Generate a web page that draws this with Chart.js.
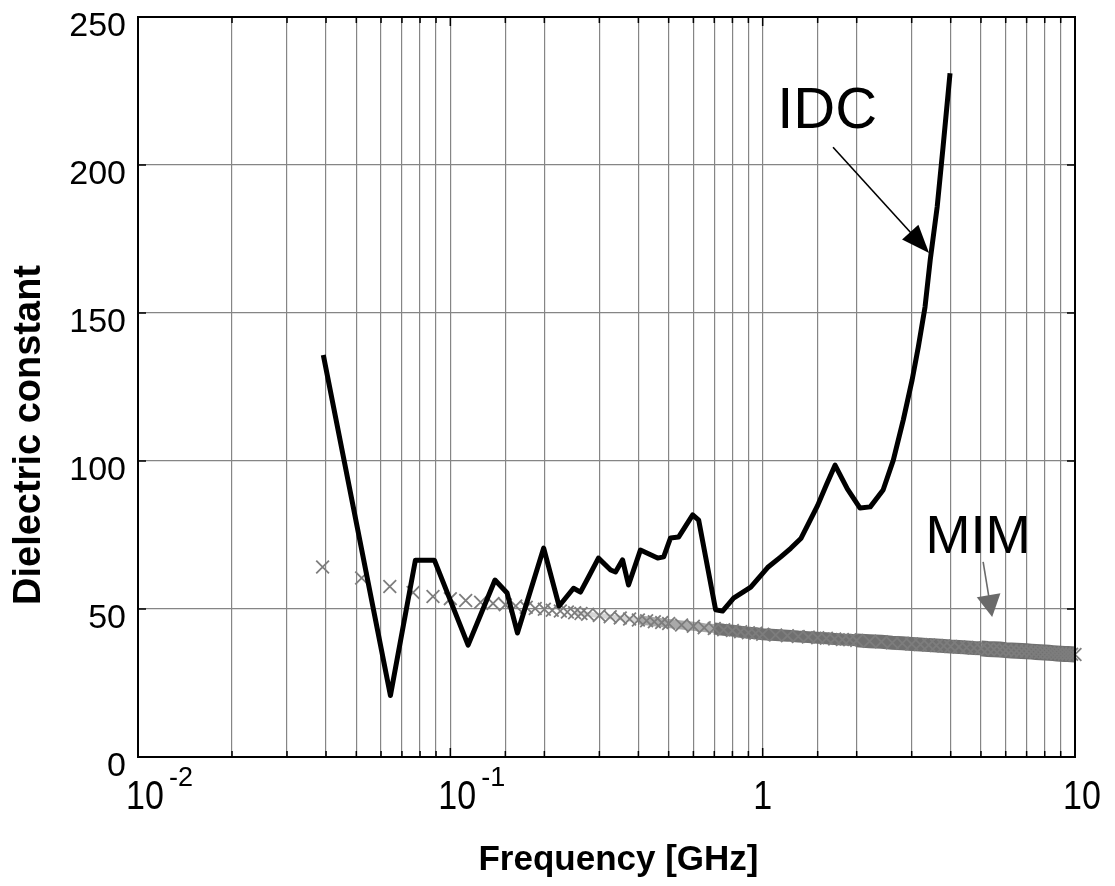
<!DOCTYPE html>
<html>
<head>
<meta charset="utf-8">
<title>Dielectric constant vs frequency</title>
<script src="https://cdn.jsdelivr.net/npm/chart.js@4.4.0/dist/chart.umd.min.js"></script>
<style>
  html, body { margin: 0; padding: 0; background: #fff; }
  #wrap { width: 1115px; height: 886px; }
</style>
</head>
<body>
<div id="wrap"><canvas id="dielectric-chart"></canvas></div>
<script>
// IDC - interdigital capacitor (frequency in GHz)
var idcFreq = [0.0392, 0.0643, 0.0773, 0.0889, 0.114, 0.139, 0.152, 0.164, 0.199, 0.223,
               0.248, 0.261, 0.277, 0.298, 0.326, 0.338, 0.356, 0.372, 0.406, 0.461,
               0.482, 0.507, 0.538, 0.597, 0.624, 0.707, 0.744, 0.807, 0.916, 1.037,
               1.143, 1.23, 1.325, 1.50, 1.60, 1.705, 1.867, 2.05, 2.21, 2.43,
               2.62, 2.82, 3.01, 3.15, 3.31, 3.44, 3.62, 3.78, 3.98];
var idcEps = [135.8, 20.8, 66.5, 66.5, 37.8, 59.8, 55.4, 41.9, 70.6, 51.0,
              57.0, 55.7, 60.8, 67.2, 63.2, 62.5, 66.6, 58.1, 69.9, 67.2,
              67.6, 74.0, 74.3, 81.8, 80.0, 49.7, 49.3, 53.7, 57.4, 64.0,
              67.6, 70.5, 73.8, 85.0, 92.0, 98.6, 90.6, 84.1, 84.5, 90.2,
              100.3, 113.9, 127.4, 138.5, 152.0, 168.0, 185.8, 206.0, 231.0];

// MIM - metal insulator metal capacitor
var mimFreq = [0.039, 0.052, 0.064, 0.076, 0.088, 0.1, 0.112, 0.125, 0.137, 0.15,
               0.162, 0.175, 0.187, 0.2, 0.212, 0.225, 0.237, 0.25, 0.262, 0.275,
               0.3, 0.325, 0.35, 0.375, 0.4, 0.425, 0.45, 0.475, 0.5, 0.55,
               0.6, 0.65, 0.7, 0.75, 0.8, 0.85, 0.9, 0.95, 1.0, 1.1,
               1.2, 1.3, 1.4, 1.5, 1.6, 1.7, 1.8, 1.9, 2.0, 2.2,
               2.4, 2.6, 2.8, 3.0, 3.2, 3.4, 3.6, 3.8, 4.0, 4.25,
               4.5, 4.75, 5.0, 5.25, 5.5, 5.75, 6.0, 6.25, 6.5, 6.75,
               7.0, 7.25, 7.5, 7.75, 8.0, 8.25, 8.5, 8.75, 9.0, 9.25,
               9.5, 9.75, 10.0];
var mimEps = [64.2, 60.5, 57.6, 55.6, 54.2, 53.5, 52.9, 52.3, 51.9, 51.4,
              51.0, 50.6, 50.2, 49.9, 49.6, 49.3, 49.0, 48.7, 48.5, 48.2,
              47.8, 47.4, 47.0, 46.6, 46.3, 46.0, 45.7, 45.4, 45.1, 44.6,
              44.2, 43.7, 43.4, 43.0, 42.7, 42.3, 42.0, 41.8, 41.5, 41.2,
              41.0, 40.7, 40.5, 40.3, 40.1, 39.9, 39.7, 39.6, 39.4, 39.1,
              38.9, 38.6, 38.4, 38.2, 38.0, 37.8, 37.7, 37.5, 37.3, 37.2,
              37.0, 36.8, 36.7, 36.5, 36.4, 36.3, 36.1, 36.0, 35.9, 35.8,
              35.7, 35.6, 35.5, 35.4, 35.3, 35.2, 35.1, 35.0, 34.9, 34.8,
              34.8, 34.7, 34.6];

// x tick labels: 10^-2 .. 10
var xTickValues = [0.01, 0.1, 1, 10];
var xTickBase = ['10', '10', '1', '10'];
var xTickSup = ['-2', '-1', '', ''];

var yTicks = [0, 50, 100, 150, 200, 250];

var xTitle = 'Frequency [GHz]';
var yTitle = 'Dielectric constant';

// callouts, anchored in data units
var callouts = [
  { text: 'IDC', tx: 1.608, ty: 212.5, x1: 1.68, y1: 206, x2: 3.41, y2: 170.3, color: '#000', arrowColor: '#000', size: 58, head: 28, headW: 22 },
  { text: 'MIM', tx: 4.89, ty: 68.9, x1: 5.08, y1: 65.9, x2: 5.43, y2: 47.3, color: '#000', arrowColor: '#6a6a6a', size: 54, head: 22, headW: 24 }
];

var FONT = '"Liberation Sans", Arial, sans-serif';

function pairs(xs, ys) {
  return xs.map(function (x, i) { return { x: x, y: ys[i] }; });
}

function drawArrow(ctx, x1, y1, x2, y2, head, headW) {
  var ang = Math.atan2(y2 - y1, x2 - x1);
  var c = Math.cos(ang), s = Math.sin(ang);
  ctx.beginPath();
  ctx.moveTo(x1, y1);
  ctx.lineTo(x2 - head * 0.8 * c, y2 - head * 0.8 * s);
  ctx.stroke();
  var bx = x2 - head * c, by = y2 - head * s;
  ctx.beginPath();
  ctx.moveTo(x2, y2);
  ctx.lineTo(bx + headW / 2 * s, by - headW / 2 * c);
  ctx.lineTo(bx - headW / 2 * s, by + headW / 2 * c);
  ctx.closePath();
  ctx.fill();
}

// the MIM sweep gets denser with frequency and merges into a band
function bandColor(ctx) {
  var f = ctx.p0.parsed.x;
  if (f < 0.25) return 'rgba(0,0,0,0)';
  if (f < 0.4) return 'rgba(115,115,115,0.3)';
  if (f < 0.7) return 'rgba(112,112,112,0.6)';
  return '#707070';
}
function bandWidth(ctx) {
  var f = ctx.p0.parsed.x;
  if (f < 0.4) return 5;
  if (f < 0.7) return 9;
  if (f < 2) return 12;
  if (f < 5) return 14;
  return 16;
}

var extras = {
  id: 'extras',
  afterDraw: function (chart) {
    var ctx = chart.ctx, a = chart.chartArea;
    var xs = chart.scales.x, ys = chart.scales.y;
    ctx.save();

    // small inward tick marks
    ctx.strokeStyle = '#000';
    ctx.lineWidth = 1.5;
    ctx.beginPath();
    xs.ticks.forEach(function (t) {
      var px = xs.getPixelForValue(t.value);
      var lg = Math.log10(t.value);
      var len = Math.abs(lg - Math.round(lg)) < 1e-6 ? 9 : 6;
      ctx.moveTo(px, a.bottom); ctx.lineTo(px, a.bottom - len);
      ctx.moveTo(px, a.top); ctx.lineTo(px, a.top + len);
    });
    yTicks.forEach(function (v) {
      var py = ys.getPixelForValue(v);
      ctx.moveTo(a.left, py); ctx.lineTo(a.left + 8, py);
      ctx.moveTo(a.right, py); ctx.lineTo(a.right - 8, py);
    });
    ctx.stroke();

    // box
    ctx.lineWidth = 2;
    ctx.strokeRect(a.left, a.top, a.right - a.left, a.bottom - a.top);

    // x tick labels with exponents
    ctx.fillStyle = '#000';
    ctx.textBaseline = 'alphabetic';
    xTickValues.forEach(function (v, i) {
      var px = xs.getPixelForValue(v);
      var base = xTickBase[i], sup = xTickSup[i];
      ctx.save();
      ctx.font = '34px ' + FONT;
      var bx;
      if (base === '1') {
        ctx.textAlign = 'center';
        bx = px;
      } else {
        ctx.textAlign = 'left';
        bx = px - 12;
      }
      ctx.translate(bx, a.bottom + 52);
      ctx.scale(1, 1.2);
      ctx.fillText(base, 0, 0);
      ctx.restore();
      if (sup) {
        ctx.save();
        ctx.font = '27px ' + FONT;
        ctx.textAlign = 'left';
        ctx.translate(px + 31, a.bottom + 29);
        ctx.scale(1, 1.05);
        ctx.fillText(sup, 0, 0);
        ctx.restore();
      }
    });

    // axis titles
    ctx.font = 'bold 35px ' + FONT;
    ctx.textAlign = 'center';
    ctx.textBaseline = 'middle';
    ctx.fillText(xTitle, (a.left + a.right) / 2 + 12, a.bottom + 103);
    ctx.save();
    ctx.font = 'bold 38px ' + FONT;
    ctx.translate(a.left - 108, (a.top + a.bottom) / 2 + 48);
    ctx.rotate(-Math.PI / 2);
    ctx.fillText(yTitle, 0, 0);
    ctx.restore();

    // callouts
    ctx.textBaseline = 'alphabetic';
    callouts.forEach(function (c) {
      ctx.fillStyle = c.color;
      ctx.font = c.size + 'px ' + FONT;
      ctx.textAlign = 'center';
      ctx.fillText(c.text, xs.getPixelForValue(c.tx), ys.getPixelForValue(c.ty));
      ctx.fillStyle = c.arrowColor;
      ctx.strokeStyle = c.arrowColor;
      ctx.lineWidth = 1.6;
      drawArrow(ctx,
        xs.getPixelForValue(c.x1), ys.getPixelForValue(c.y1),
        xs.getPixelForValue(c.x2), ys.getPixelForValue(c.y2),
        c.head, c.headW);
    });

    ctx.restore();
  }
};

var chart = new Chart(document.getElementById('dielectric-chart'), {
  type: 'scatter',
  data: {
    datasets: [{
      label: 'IDC',
      data: pairs(idcFreq, idcEps),
      showLine: true,
      borderColor: '#000',
      borderWidth: 5,
      borderJoinStyle: 'round',
      pointRadius: 0,
      tension: 0
    }, {
      label: 'MIM',
      data: pairs(mimFreq, mimEps),
      showLine: true,
      borderWidth: 12,
      segment: {
        borderColor: bandColor,
        borderWidth: bandWidth
      },
      pointStyle: 'crossRot',
      pointRadius: 9,
      pointBorderColor: '#7d7d7d',
      pointBorderWidth: 1.8,
      pointBackgroundColor: '#7d7d7d',
      clip: false
    }]
  },
  options: {
    responsive: true,
    maintainAspectRatio: false,
    animation: false,
    layout: { padding: { top: 17, right: 40, left: 0, bottom: 0 } },
    plugins: {
      legend: { display: false },
      tooltip: { enabled: false }
    },
    scales: {
      x: {
        type: 'logarithmic',
        min: 0.01,
        max: 10,
        border: { color: '#000', width: 2 },
        grid: { color: '#858585', lineWidth: 1.2, drawTicks: false },
        ticks: {
          autoSkip: false,
          callback: function () { return ''; }
        },
        afterFit: function (scale) {
          scale.height = 129;
          scale.paddingLeft = 0;
          scale.paddingRight = 0;
        }
      },
      y: {
        min: 0,
        max: 250,
        border: { color: '#000', width: 2 },
        grid: { color: '#858585', lineWidth: 1.2, drawTicks: false },
        ticks: {
          stepSize: 50,
          padding: 12,
          labelOffset: 10,
          color: '#000',
          font: { family: FONT, size: 34, lineHeight: 1 }
        },
        afterFit: function (scale) {
          scale.width = 138;
          scale.paddingTop = 0;
          scale.paddingBottom = 0;
        }
      }
    }
  },
  plugins: [extras]
});
</script>
</body>
</html>
